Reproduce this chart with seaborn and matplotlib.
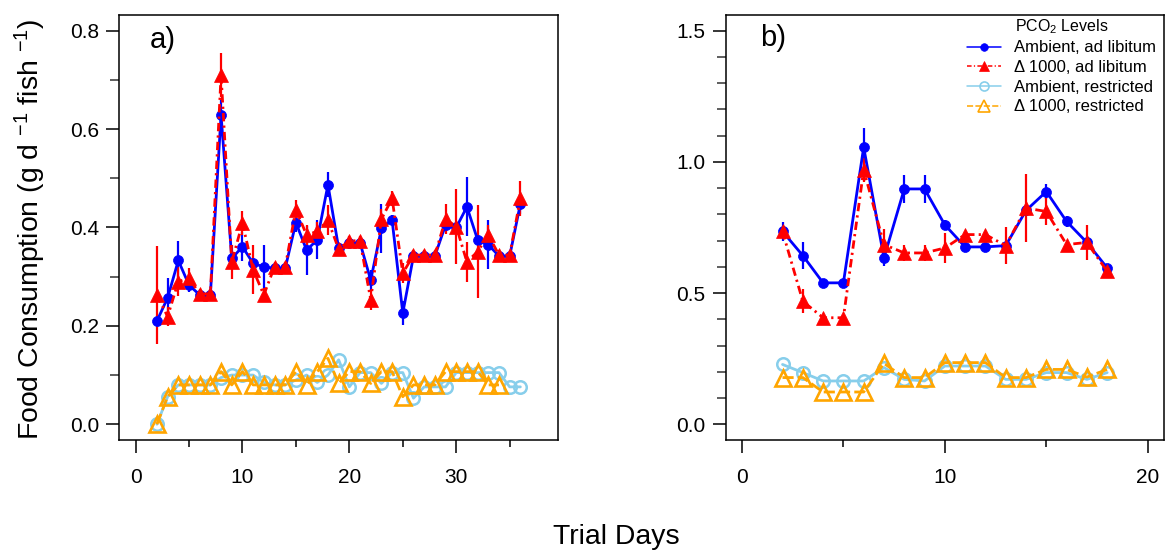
import numpy as np
import pandas as pd
import matplotlib
matplotlib.use("Agg")
import matplotlib.pyplot as plt
import seaborn as sns
from matplotlib.ticker import FormatStrFormatter, FixedLocator
from matplotlib.lines import Line2D

# ---------------- data ----------------
days_a = list(range(2, 37))
amb_lib_a = [0.21, 0.257, 0.333, 0.283, 0.263, 0.263, 0.629, 0.337, 0.361, 0.327,
             0.320, 0.317, 0.317, 0.41, 0.354, 0.375, 0.487, 0.358, 0.369, 0.369,
             0.293, 0.398, 0.415, 0.226, 0.342, 0.342, 0.342, 0.405, 0.40, 0.442,
             0.375, 0.365, 0.342, 0.342, 0.448]
amb_lib_a_err = [0.01, 0.04, 0.04, 0.015, 0.01, 0.01, 0.03, 0.01, 0.03, 0.01,
                 0.045, 0.01, 0.01, 0.02, 0.05, 0.04, 0.025, 0.01, 0.01, 0.01,
                 0.02, 0.05, 0.01, 0.025, 0.01, 0.01, 0.01, 0.01, 0.01, 0.06,
                 0.01, 0.05, 0.01, 0.01, 0.02]
hi_lib_a = [0.263, 0.219, 0.29, 0.297, 0.265, 0.265, 0.71, 0.33, 0.409, 0.314,
            0.263, 0.32, 0.32, 0.436, 0.385, 0.392, 0.415, 0.356, 0.373, 0.373,
            0.253, 0.417, 0.459, 0.307, 0.344, 0.344, 0.344, 0.417, 0.402, 0.33,
            0.351, 0.385, 0.344, 0.344, 0.459]
hi_lib_a_err = [0.1, 0.02, 0.03, 0.02, 0.01, 0.01, 0.045, 0.035, 0.025, 0.05,
                0.015, 0.01, 0.01, 0.02, 0.02, 0.02, 0.03, 0.01, 0.01, 0.01,
                0.02, 0.02, 0.015, 0.02, 0.01, 0.01, 0.01, 0.03, 0.077, 0.04,
                0.095, 0.02, 0.01, 0.01, 0.035]
amb_res_a = [0.0, 0.056, 0.08, 0.08, 0.08, 0.08, 0.095, 0.1, 0.1, 0.1,
             0.085, 0.08, 0.08, 0.09, 0.1, 0.085, 0.1, 0.131, 0.076, 0.105,
             0.105, 0.083, 0.105, 0.105, 0.053, 0.076, 0.076, 0.076, 0.105, 0.105,
             0.105, 0.105, 0.105, 0.076, 0.076]
days_a_hi_res = list(range(2, 35))
hi_res_a = [0.0, 0.056, 0.08, 0.08, 0.08, 0.08, 0.107, 0.08, 0.107, 0.08,
            0.08, 0.08, 0.08, 0.107, 0.08, 0.107, 0.134, 0.083, 0.107, 0.107,
            0.083, 0.107, 0.107, 0.056, 0.08, 0.08, 0.08, 0.107, 0.107, 0.107,
            0.107, 0.08, 0.08]

days_b = list(range(2, 19))
amb_lib_b = [0.735, 0.643, 0.539, 0.539, 1.056, 0.634, 0.897, 0.897, 0.76, 0.676,
             0.676, 0.681, 0.815, 0.887, 0.773, 0.693, 0.596]
amb_lib_b_err = [0.035, 0.05, 0.01, 0.01, 0.075, 0.03, 0.054, 0.054, 0.02, 0.01,
                 0.01, 0.01, 0.02, 0.03, 0.02, 0.01, 0.015]
hi_lib_b = [0.735, 0.469, 0.406, 0.406, 0.97, 0.685, 0.653, 0.653, 0.672, 0.723,
            0.723, 0.681, 0.824, 0.811, 0.685, 0.693, 0.583]
hi_lib_b_err = [0.02, 0.045, 0.01, 0.01, 0.045, 0.06, 0.03, 0.03, 0.057, 0.01,
                0.01, 0.07, 0.13, 0.05, 0.015, 0.067, 0.01]
amb_res_b = [0.228, 0.197, 0.165, 0.165, 0.165, 0.216, 0.171, 0.165, 0.222, 0.222,
             0.222, 0.171, 0.171, 0.197, 0.197, 0.171, 0.197]
hi_res_b = [0.178, 0.178, 0.123, 0.123, 0.123, 0.232, 0.178, 0.178, 0.235, 0.235,
            0.235, 0.178, 0.178, 0.209, 0.209, 0.18, 0.209]

labels = ["Ambient, ad libitum", "\u0394 1000, ad libitum",
          "Ambient, restricted", "\u0394 1000, restricted"]

# ---------------- styles ----------------
STY = {
    "amb_lib": dict(color="#0000FF", marker="o", markersize=7.2, markerfacecolor="#0000FF",
                    markeredgecolor="#0000FF", markeredgewidth=0.5, linestyle="-", linewidth=2.0),
    "hi_lib": dict(color="#FF0000", marker="^", markersize=9.5, markerfacecolor="#FF0000",
                   markeredgecolor="#FF0000", markeredgewidth=0.5,
                   linestyle=(0, (3, 1.5, 0.8, 1.5)), linewidth=2.0),
    "amb_res": dict(color="#87CEEB", marker="o", markersize=9, markerfacecolor="none",
                    markeredgecolor="#87CEEB", markeredgewidth=1.8, linestyle="-", linewidth=2.0),
    "hi_res": dict(color="#FFA500", marker="^", markersize=11, markerfacecolor="none",
                   markeredgecolor="#FFA500", markeredgewidth=1.9,
                   linestyle=(0, (4, 1.5)), linewidth=2.0),
}

sns.set_style("ticks")
plt.rcParams['font.family'] = ['Liberation Sans', 'DejaVu Sans']
plt.rcParams['mathtext.fontset'] = 'custom'
plt.rcParams['mathtext.rm'] = 'Liberation Sans'
plt.rcParams['mathtext.it'] = 'Liberation Sans:italic'
plt.rcParams['mathtext.bf'] = 'Liberation Sans:bold'
for k in ['text.color', 'axes.labelcolor', 'xtick.color', 'ytick.color', 'axes.edgecolor']:
    plt.rcParams[k] = 'black'

W, H = 1170, 553
fig = plt.figure(figsize=(W / 100, H / 100), dpi=100)
axa = fig.add_axes([119.3 / W, 113 / H, (558 - 119.3) / W, 425 / H])
axb = fig.add_axes([725.7 / W, 113 / H, (1164 - 725.7) / W, 425 / H])


def draw(ax, days, vals, errs, key):
    st = STY[key]
    df = pd.DataFrame({"day": days, "val": vals})
    if errs is not None:
        lo = np.array(vals) - np.array(errs)
        hi = np.array(vals) + np.array(errs)
        ax.vlines(days, lo, hi, color=st["color"], linewidth=1.6, zorder=2)
    sns.lineplot(data=df, x="day", y="val", ax=ax, errorbar=None, legend=False,
                 sort=False, zorder=3, **st)


draw(axa, days_a, amb_lib_a, amb_lib_a_err, "amb_lib")
draw(axa, days_a, hi_lib_a, hi_lib_a_err, "hi_lib")
draw(axa, days_a, amb_res_a, None, "amb_res")
draw(axa, days_a_hi_res, hi_res_a, None, "hi_res")

draw(axb, days_b, amb_lib_b, amb_lib_b_err, "amb_lib")
draw(axb, days_b, hi_lib_b, hi_lib_b_err, "hi_lib")
draw(axb, days_b, amb_res_b, None, "amb_res")
draw(axb, days_b, hi_res_b, None, "hi_res")

# axes formatting
axa.set_xlim(-1.52, 39.52)
axa.set_ylim(-0.032, 0.832)
axa.xaxis.set_major_locator(FixedLocator([0, 10, 20, 30]))
axa.xaxis.set_minor_locator(FixedLocator([5, 15, 25, 35]))
axa.yaxis.set_major_locator(FixedLocator([0, 0.2, 0.4, 0.6, 0.8]))
axa.yaxis.set_minor_locator(FixedLocator([0.1, 0.3, 0.5, 0.7]))

axb.set_xlim(-0.8, 20.8)
axb.set_ylim(-0.06, 1.56)
axb.xaxis.set_major_locator(FixedLocator([0, 10, 20]))
axb.xaxis.set_minor_locator(FixedLocator([5, 15]))
axb.yaxis.set_major_locator(FixedLocator([0, 0.5, 1.0, 1.5]))
axb.yaxis.set_minor_locator(FixedLocator([0.1, 0.2, 0.3, 0.4, 0.6, 0.7, 0.8, 0.9,
                                          1.1, 1.2, 1.3, 1.4]))

for ax in (axa, axb):
    ax.set_xlabel("")
    ax.set_ylabel("")
    ax.yaxis.set_major_formatter(FormatStrFormatter("%.1f"))
    for s in ax.spines.values():
        s.set_visible(True)
        s.set_linewidth(1.1)
        s.set_color("black")
    ax.tick_params(axis="x", which="major", length=9.5, width=1.1, pad=11,
                   labelsize=15, direction="out", color="black", labelcolor="black")
    ax.tick_params(axis="x", which="minor", length=5, width=1.1, direction="out",
                   color="black")
    ax.tick_params(axis="y", which="major", length=9.5, width=1.1, pad=5,
                   labelsize=15, direction="out", color="black", labelcolor="black")
    ax.tick_params(axis="y", which="minor", length=6.5, width=1.1, direction="out",
                   color="#333333")

axa.text(0.07, 0.94, "a)", transform=axa.transAxes, fontsize=21, va="center", ha="left")
axb.text(0.078, 0.945, "b)", transform=axb.transAxes, fontsize=21, va="center", ha="left")

fig.text(0.026, 0.586, r"Food Consumption (g d $^{-1}$ fish $^{-1}$)", rotation=90,
         fontsize=20.4, ha="center", va="center")
fig.text(0.527, 0.029, "Trial Days", fontsize=20.4, ha="center", va="center")

# legend
handles = []
for key, ms in zip(["amb_lib", "hi_lib", "amb_res", "hi_res"], [5.5, 7, 6.5, 8]):
    st = dict(STY[key])
    st["markersize"] = ms
    st["linewidth"] = 1.1
    st["markeredgewidth"] = 1.2 if st["markerfacecolor"] == "none" else 0.5
    handles.append(Line2D([], [], **st))
leg = axb.legend(handles, labels, loc="upper right", bbox_to_anchor=(0.982, 0.995),
                 frameon=False, title=r"PCO$_2$ Levels", fontsize=12,
                 title_fontsize=11.5, handlelength=2.0, handletextpad=0.8,
                 labelspacing=0.28, borderaxespad=0, borderpad=0)

fig.savefig("out.png", dpi=100)
